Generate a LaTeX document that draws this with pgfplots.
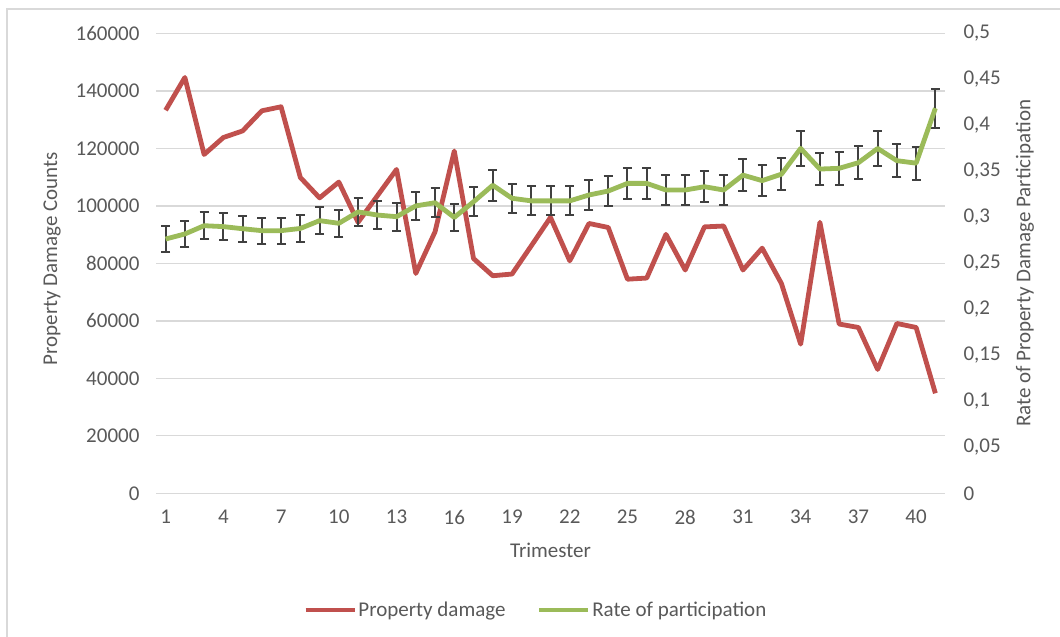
\documentclass[border=0pt]{standalone}
\usepackage{fontspec}
\setmainfont{Carlito}
\usepackage{pgfplots}
\usepackage{pgfplotstable}
\pgfplotsset{compat=1.18}

\definecolor{pdred}{HTML}{C0504D}
\definecolor{prgreen}{HTML}{9BBB59}
\definecolor{txtgray}{HTML}{595959}
\definecolor{gridgray}{HTML}{D9D9D9}
\definecolor{errgray}{HTML}{404040}

% property damage counts per trimester
\pgfplotstableread{
t  count
1  133300
2  144700
3  117900
4  123800
5  126100
6  133100
7  134500
8  109900
9  102800
10 108300
11 94300
12 103500
13 112700
14 76500
15 91000
16 119100
17 81700
18 75700
19 76300
20 86100
21 96000
22 80900
23 93900
24 92500
25 74500
26 74900
27 90100
28 77700
29 92700
30 93000
31 77700
32 85300
33 73000
34 51900
35 94300
36 58900
37 57700
38 43100
39 59100
40 57700
41 34800
}\damage

% rate of participation per trimester
\pgfplotstableread{
t  rate
1  0.2765
2  0.2820
3  0.2910
4  0.2900
5  0.2877
6  0.2856
7  0.2856
8  0.2880
9  0.2965
10 0.2936
11 0.3060
12 0.3026
13 0.3008
14 0.3125
15 0.3160
16 0.3000
17 0.3170
18 0.3350
19 0.3208
20 0.3180
21 0.3180
22 0.3180
23 0.3244
24 0.3287
25 0.3370
26 0.3370
27 0.3298
28 0.3298
29 0.3334
30 0.3298
31 0.3460
32 0.3400
33 0.3470
34 0.3750
35 0.3526
36 0.3534
37 0.3595
38 0.3750
39 0.3617
40 0.3590
41 0.4187
}\rate

\pgfplotsset{
  base/.style={
    scale only axis,
    width=789pt, height=459.8pt,
    at={(156pt,143.7pt)}, anchor=south west,
    xmin=0.5, xmax=41.5,
    font=\fontsize{21}{25}\selectfont,
    tick style={draw=none},
    axis line style={draw=none},
    ticklabel style={text=txtgray},
    label style={text=txtgray},
    /pgf/number format/assume math mode=true,
    scaled y ticks=false,
  },
}

\begin{document}
\begin{tikzpicture}
\useasboundingbox (0,0) rectangle (1060pt,637pt);
\draw[black!15, line width=1.5pt] (7pt,0pt) -- (7pt,628pt) -- (1060pt,628pt);

\begin{axis}[
  base,
  ymin=0, ymax=160000,
  ytick={0,20000,40000,60000,80000,100000,120000,140000,160000},
  yticklabels={0,20000,40000,60000,80000,100000,120000,140000,160000},
  xtick={1,4,...,40},
  ymajorgrids,
  grid style={gridgray, line width=1.3pt},
  yticklabel style={xshift=-13pt},
  xticklabel style={yshift=-13pt},
  xlabel={Trimester},
  xlabel style={at={(axis description cs:0.5,-0.1233)}, anchor=center},
  ylabel={Property Damage Counts},
  ylabel style={at={(axis description cs:-0.1318,0.51)}, anchor=center},
]
\addplot[pdred, line width=4.8pt, line join=round, mark=none] table[x=t,y=count] {\damage};
\end{axis}

\begin{axis}[
  base,
  axis x line=none,
  axis y line*=right,
  ymin=0, ymax=0.5,
  ytick={0,0.05,0.1,0.15,0.2,0.25,0.3,0.35,0.4,0.45,0.5},
  yticklabels={0,{0,05},{0,1},{0,15},{0,2},{0,25},{0,3},{0,35},{0,4},{0,45},{0,5}},
  yticklabel style={xshift=15pt},
  ylabel={Rate of Property Damage Participation},
  ylabel style={at={(axis description cs:1.1014,0.5)}, anchor=center},
  legend style={at={(axis description cs:0.481,-0.254)}, anchor=center,
    draw=none, fill=none, text=txtgray, legend columns=2,
    nodes={inner xsep=1.5pt},
    /tikz/every even column/.append style={column sep=30pt}},
  legend image code/.code={\draw[#1, line width=4.8pt] (0pt,0pt) -- (49pt,0pt);},
]
\addplot[draw=none, mark=none, forget plot,
  error bars/.cd, y dir=both, y fixed relative=0.05,
  error bar style={errgray, line width=2pt},
  error mark options={errgray, rotate=90, mark size=4.5pt, line width=2pt}]
  table[x=t,y=rate] {\rate};
\addlegendimage{pdred}
\addlegendentry{Property damage}
\addplot[prgreen, line width=4.8pt, line join=round, mark=none] table[x=t,y=rate] {\rate};
\addlegendentry{Rate of participation}
\end{axis}
\end{tikzpicture}
\end{document}
